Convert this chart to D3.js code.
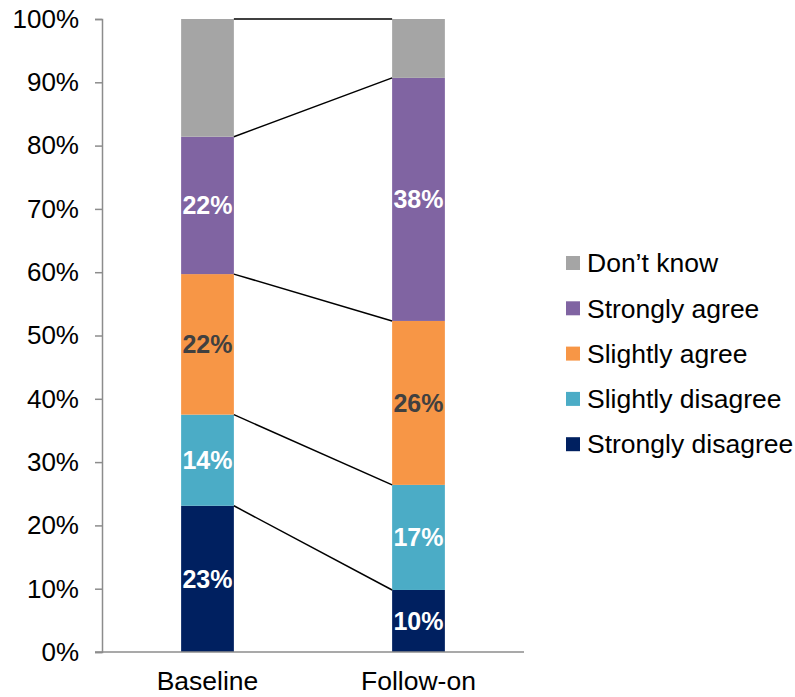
<!DOCTYPE html>
<html>
<head>
<meta charset="utf-8">
<script src="https://cdn.jsdelivr.net/npm/d3@7"></script>
<style>
  html, body { margin: 0; padding: 0; background: #fff; }
  svg { display: block; font-family: "Liberation Sans", Arial, sans-serif; }
</style>
</head>
<body>
<svg id="chart" width="795" height="697"></svg>
<script>
// Survey waves along the x axis
const waves = ["Baseline", "Follow-on"];
// Response categories, stacked bottom to top
const responses = ["Strongly disagree", "Slightly disagree", "Slightly agree", "Strongly agree", "Don\u2019t know"];
// Share of respondents (%) for each response, per wave
const baselineValues = [23.1, 14.4, 22.2, 21.7, 18.6];
const followOnValues = [9.8, 16.6, 25.9, 38.4, 9.3];
// Response colours and label colours
const responseColors = ["#002060", "#4BACC6", "#F79646", "#8064A2", "#A5A5A5"];
const labelColors = ["#ffffff", "#ffffff", "#404040", "#ffffff", null];
// Y axis ticks
const yTicks = [0, 10, 20, 30, 40, 50, 60, 70, 80, 90, 100];

const svg = d3.select("#chart");
const plot = { left: 102, right: 524, top: 19, bottom: 652 };

const rows = waves.map((w, i) => {
  const vals = i === 0 ? baselineValues : followOnValues;
  const r = { wave: w };
  responses.forEach((k, j) => r[k] = vals[j]);
  return r;
});
const series = d3.stack().keys(responses)(rows);

const x = d3.scaleBand().domain(waves).range([plot.left, plot.right]).padding(0);
const y = d3.scaleLinear().domain([0, 100]).range([plot.bottom, plot.top]);
const barW = x.bandwidth() * 0.25;
const barX = w => x(w) + (x.bandwidth() - barW) / 2;

// Y axis
const yAxis = svg.append("g")
  .attr("transform", `translate(${plot.left},0)`)
  .call(d3.axisLeft(y).tickValues(yTicks).tickSize(7).tickPadding(16).tickFormat(d => d + "%"));
yAxis.select(".domain").attr("stroke", "#8c8c8c").attr("stroke-width", 1.5);
yAxis.selectAll(".tick line").attr("stroke", "#8c8c8c").attr("stroke-width", 1.5);
yAxis.selectAll(".tick text").attr("font-size", 26).attr("fill", "#000")
  .attr("font-family", "Liberation Sans, Arial, sans-serif");

// Stacked bars
series.forEach((s, i) => {
  svg.append("g").selectAll("rect").data(s).join("rect")
    .attr("x", d => barX(d.data.wave))
    .attr("width", barW)
    .attr("y", d => y(d[1]))
    .attr("height", d => y(d[0]) - y(d[1]))
    .attr("fill", responseColors[i]);
});

// Series lines joining the top of each segment between waves
const b = waves[0], f = waves[1];
series.forEach(s => {
  svg.append("line")
    .attr("x1", barX(b) + barW).attr("y1", y(s[0][1]))
    .attr("x2", barX(f)).attr("y2", y(s[1][1]))
    .attr("stroke", "#000").attr("stroke-width", 1.5);
});

// X axis
svg.append("line")
  .attr("x1", plot.left - 7).attr("x2", plot.right)
  .attr("y1", plot.bottom).attr("y2", plot.bottom)
  .attr("stroke", "#8c8c8c").attr("stroke-width", 1.5);
svg.append("g").selectAll("text").data(waves).join("text")
  .attr("x", d => x(d) + x.bandwidth() / 2)
  .attr("y", 690)
  .attr("text-anchor", "middle")
  .attr("font-size", 26.5)
  .attr("fill", "#000")
  .text(d => d);

// Value labels
series.forEach((s, i) => {
  if (!labelColors[i]) return;
  svg.append("g").selectAll("text").data(s).join("text")
    .attr("x", d => barX(d.data.wave) + barW / 2)
    .attr("y", d => (y(d[0]) + y(d[1])) / 2)
    .attr("dy", "0.35em")
    .attr("text-anchor", "middle")
    .attr("font-size", 25)
    .attr("font-weight", "bold")
    .attr("fill", labelColors[i])
    .text(d => Math.round(d[1] - d[0]) + "%");
});

// Legend (top entry is the top of the stack)
const legend = svg.append("g");
const legendItems = responses.map((r, i) => ({ r, c: responseColors[i] })).reverse();
legendItems.forEach((d, i) => {
  const cy = 263 + i * 45.3;
  legend.append("rect").attr("x", 566).attr("y", cy - 7).attr("width", 14).attr("height", 14).attr("fill", d.c);
  legend.append("text").attr("x", 587).attr("y", cy).attr("dy", "0.35em")
    .attr("font-size", 26.5).attr("fill", "#000").text(d.r);
});
</script>
</body>
</html>
